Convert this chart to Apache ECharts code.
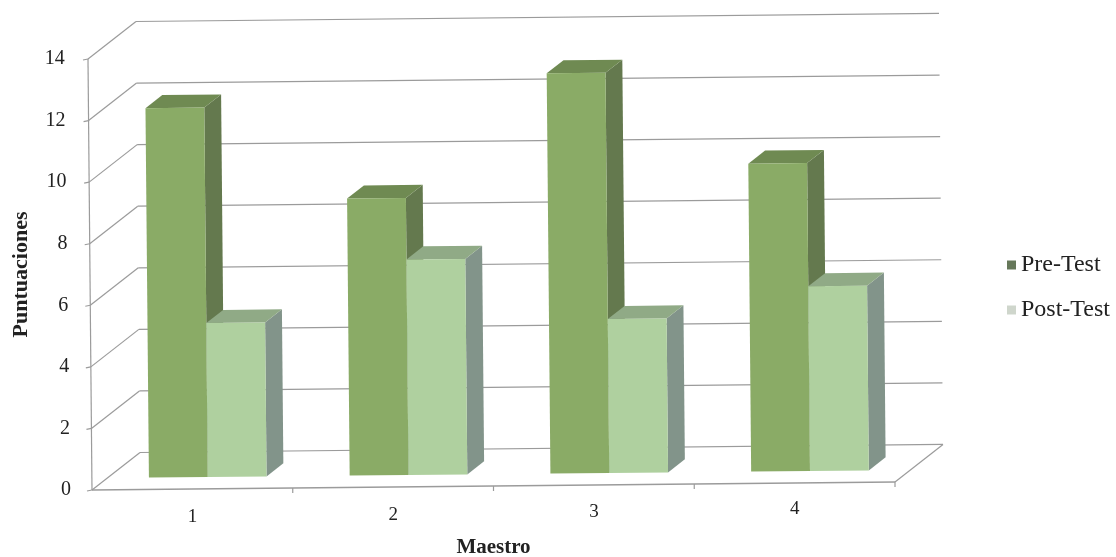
<!DOCTYPE html>
<html>
<head>
<meta charset="utf-8">
<title>Puntuaciones por maestro</title>
<script src="https://cdn.jsdelivr.net/npm/echarts@6/dist/echarts.min.js"></script>
<style>
html, body { margin: 0; padding: 0; background: #fff; }
#main { width: 1116px; height: 557px; }
</style>
</head>
<body>
<div id="main"></div>
<script>
var categories = ['1', '2', '3', '4'];
var preTest = [12, 9, 13, 10];
var postTest = [5, 7, 5, 6];
var yTicks = [0, 2, 4, 6, 8, 10, 12, 14];

var myChart = echarts.init(document.getElementById('main'));

// fake 3D: the page is slightly tilted and the back wall sits up and to the right
var depthX = 48, depthY = 37.5;
var barFront = 0.32, barBack = 0.67, barWidth = 0.293;
var lineColor = '#9b9b9b';
var serif = '"Liberation Serif", serif';

function project(cs, px, py, d) {
    var x0 = cs.x, y0 = cs.y + cs.height;
    return [
        px - (y0 - py) * 0.0093 + depthX * d,
        py - (px - x0) * 0.01 - depthY * d
    ];
}

function poly(points, color) {
    return {type: 'polygon', shape: {points: points}, style: {fill: color}};
}

function seg(a, b, width) {
    return {
        type: 'line',
        shape: {x1: a[0], y1: a[1], x2: b[0], y2: b[1]},
        style: {stroke: lineColor, lineWidth: width || 1.2}
    };
}

function barRender(slot, colors) {
    return function (params, api) {
        var cs = params.coordSys;
        var band = api.size([1, 0])[0];
        var top = api.coord([api.value(0), api.value(1)]);
        var base = api.coord([api.value(0), 0]);
        var xl = top[0] + slot * barWidth * band;
        var xr = xl + barWidth * band;
        var fbl = project(cs, xl, base[1], barFront);
        var fbr = project(cs, xr, base[1], barFront);
        var ftl = project(cs, xl, top[1], barFront);
        var ftr = project(cs, xr, top[1], barFront);
        var bbr = project(cs, xr, base[1], barBack);
        var btl = project(cs, xl, top[1], barBack);
        var btr = project(cs, xr, top[1], barBack);
        return {
            type: 'group',
            children: [
                poly([fbr, ftr, btr, bbr], colors[2]),
                poly([ftl, ftr, btr, btl], colors[1]),
                poly([fbl, fbr, ftr, ftl], colors[0])
            ]
        };
    };
}

function wallRender(params, api) {
    var cs = params.coordSys;
    var left = cs.x, right = cs.x + cs.width;
    var py = api.coord([0, api.value(0)])[1];
    var a = project(cs, left, py, 0);
    var b = project(cs, left, py, 1);
    var c = project(cs, right, py, 1);
    var kids = [
        seg(a, b),
        seg(b, c),
        seg([a[0] - 5, a[1] + 1], a)
    ];
    if (api.value(0) === 0) {
        var d = project(cs, right, py, 0);
        kids.push(seg(a, d, 1.6), seg(d, c));
        // category ticks along the front edge
        for (var i = 1; i <= categories.length; i++) {
            var t = project(cs, left + cs.width * i / categories.length, py, 0);
            kids.push(seg(t, [t[0], t[1] + 5]));
        }
        // value axis
        kids.push(seg(a, project(cs, left, cs.y, 0), 1.2));
    }
    return {type: 'group', children: kids};
}

var xRich = {}, yRich = {};
categories.forEach(function (c, i) {
    xRich['c' + i] = {
        fontFamily: serif, fontSize: 19, color: '#222',
        padding: [(categories.length - 1 - i) * 2.6, 0, 0, 0]
    };
});
yTicks.forEach(function (v, i) {
    yRich['v' + i] = {
        fontFamily: serif, fontSize: 20, color: '#222',
        padding: [0, i * 0.9, 0, 0]
    };
});

var option = {
    animation: false,
    backgroundColor: '#fff',
    grid: {left: 92, right: 221, top: 59, bottom: 67, outerBoundsMode: 'none'},
    legend: {
        orient: 'vertical',
        left: 1002,
        top: 248,
        itemWidth: 9,
        itemHeight: 9,
        itemGap: 21,
        textStyle: {fontFamily: serif, fontSize: 24, color: '#222'},
        data: [
            {name: 'Pre-Test', icon: 'rect', itemStyle: {color: '#66785a'}},
            {name: 'Post-Test', icon: 'rect', itemStyle: {color: '#cfd6cc'}}
        ]
    },
    xAxis: {
        type: 'category',
        data: categories,
        name: 'Maestro',
        nameLocation: 'middle',
        nameGap: 47,
        nameTextStyle: {fontFamily: serif, fontSize: 21, fontWeight: 'bold', color: '#222'},
        axisLine: {show: false},
        axisTick: {show: false},
        axisLabel: {
            margin: 10,
            rich: xRich,
            formatter: function (value, index) {
                return '{c' + index + '|' + value + '}';
            }
        }
    },
    yAxis: {
        type: 'value',
        min: 0,
        max: 14,
        interval: 2,
        name: 'Puntuaciones',
        nameLocation: 'middle',
        nameGap: 60,
        nameTextStyle: {fontFamily: serif, fontSize: 22, fontWeight: 'bold', color: '#222'},
        axisLine: {show: false},
        axisTick: {show: false},
        splitLine: {show: false},
        axisLabel: {
            margin: 21,
            rich: yRich,
            formatter: function (value) {
                return '{v' + yTicks.indexOf(value) + '|' + value + '}';
            }
        }
    },
    series: [
        {
            type: 'custom',
            name: 'walls',
            z: 1,
            clip: false,
            silent: true,
            renderItem: wallRender,
            encode: {y: 0},
            data: yTicks.map(function (v) { return [v]; })
        },
        {
            type: 'custom',
            name: 'Pre-Test',
            z: 2,
            clip: false,
            renderItem: barRender(-1, ['#8aab66', '#6f8a52', '#64794e']),
            encode: {x: 0, y: 1},
            data: preTest.map(function (v, i) { return [i, v]; })
        },
        {
            type: 'custom',
            name: 'Post-Test',
            z: 3,
            clip: false,
            renderItem: barRender(0, ['#afd09f', '#90aa86', '#82948a']),
            encode: {x: 0, y: 1},
            data: postTest.map(function (v, i) { return [i, v]; })
        }
    ]
};
myChart.setOption(option);
</script>
</body>
</html>
